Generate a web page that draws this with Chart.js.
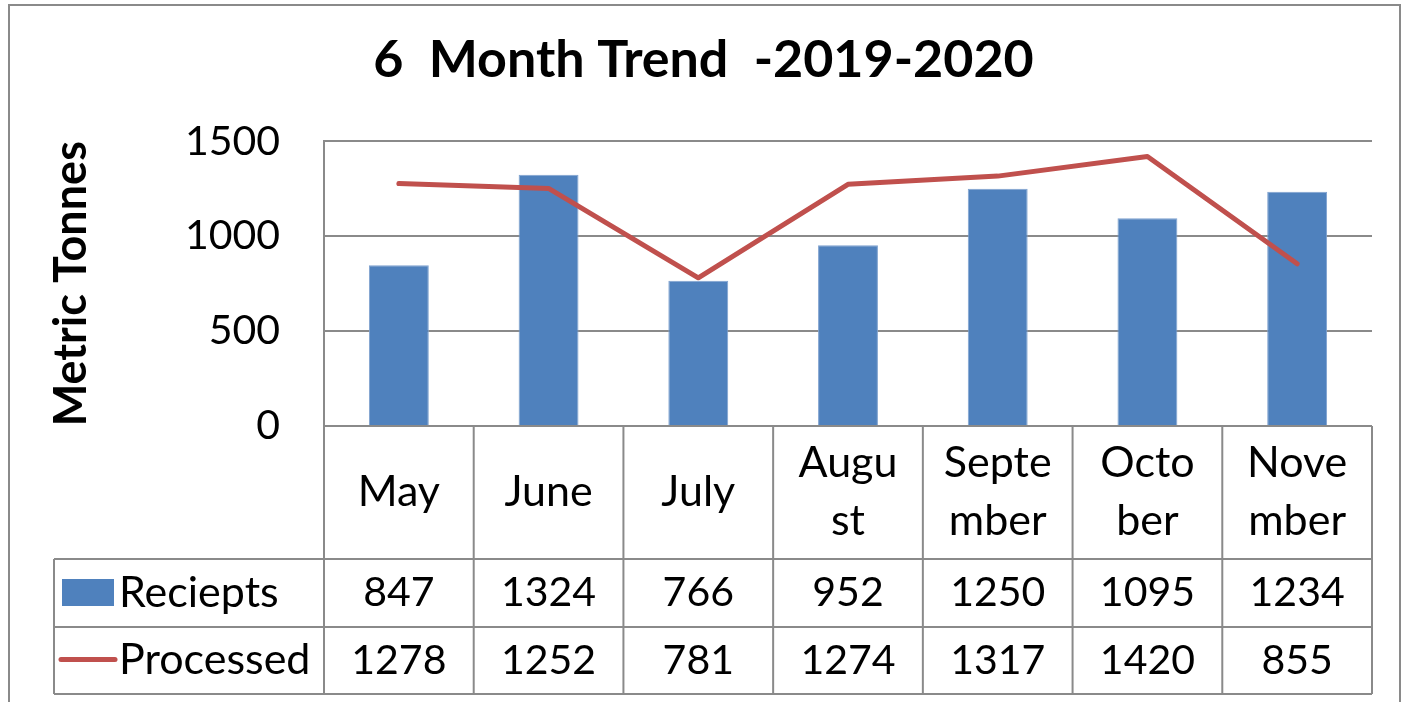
<!DOCTYPE html>
<html>
<head>
<meta charset="utf-8">
<script src="https://cdn.jsdelivr.net/npm/chart.js@4/dist/chart.umd.min.js"></script>
<style>
  html, body { margin: 0; padding: 0; background: #fff; }
  #wrap { width: 1403px; height: 702px; position: relative; }
</style>
</head>
<body>
<div id="wrap"><canvas id="chart"></canvas></div>
<script>
// data
const categories = [['May'], ['June'], ['July'], ['Augu', 'st'], ['Septe', 'mber'], ['Octo', 'ber'], ['Nove', 'mber']]
const receipts = [847, 1324, 766, 952, 1250, 1095, 1234]
const processed = [1278, 1252, 781, 1274, 1317, 1420, 855]
const yTicks = [0, 500, 1000, 1500]

const seriesNames = ['Reciepts', 'Processed']
const blue = '#4F81BD'
const red = '#C0504D'
const gray = '#8a8a8a'
const font = 'Lato'

// excel-like data table drawn under the plot, using the x scale positions
const dataTable = {
  id: 'dataTable',
  afterDraw(chart) {
    const { ctx, chartArea: area, scales: { x } } = chart
    const step = (area.right - area.left) / categories.length
    const r0 = area.bottom
    const r1 = r0 + 133
    const r2 = r1 + 68
    const r3 = r2 + 67
    const legendLeft = 54

    const line = (x1, y1, x2, y2) => {
      ctx.beginPath()
      ctx.moveTo(x1, y1)
      ctx.lineTo(x2, y2)
      ctx.stroke()
    }

    ctx.save()
    ctx.strokeStyle = gray
    ctx.lineWidth = 2
    line(legendLeft, r1, area.right, r1)
    line(legendLeft, r2, area.right, r2)
    line(legendLeft, r3, area.right, r3)
    line(legendLeft, r1, legendLeft, r3)
    for (let i = 0; i <= categories.length; i++) {
      const px = area.left + i * step
      line(px, r0, px, r3)
    }
    // outer chart border
    ctx.strokeRect(9, 5, 1391, 740)

    ctx.fillStyle = '#000'
    ctx.textAlign = 'center'
    ctx.textBaseline = 'middle'
    categories.forEach((lines, i) => {
      const cx = x.getPixelForValue(i)
      const mid = (r0 + r1) / 2
      ctx.font = `43px ${font}`
      lines.forEach((t, j) => {
        ctx.fillText(t, cx, mid + (j - (lines.length - 1) / 2) * 58)
      })
      ctx.font = `41px ${font}`
      ctx.fillText(String(receipts[i]), cx, (r1 + r2) / 2)
      ctx.fillText(String(processed[i]), cx, (r2 + r3) / 2)
    })

    // legend keys
    ctx.font = `43px ${font}`
    ctx.textAlign = 'left'
    ctx.fillText(seriesNames[0], 119, (r1 + r2) / 2)
    ctx.fillText(seriesNames[1], 119, (r2 + r3) / 2)
    ctx.fillStyle = blue
    ctx.fillRect(62, 579, 52, 27)
    ctx.strokeStyle = red
    ctx.lineWidth = 5
    ctx.lineCap = 'round'
    line(61, (r2 + r3) / 2 - 1, 115, (r2 + r3) / 2 - 1)
    ctx.restore()
  }
}

new Chart(document.getElementById('chart'), {
  data: {
    labels: categories,
    datasets: [
      {
        type: 'line',
        label: seriesNames[1],
        data: processed,
        borderColor: red,
        borderWidth: 5,
        pointRadius: 0,
        tension: 0,
        borderCapStyle: 'round',
        borderJoinStyle: 'round',
        order: 0
      },
      {
        type: 'bar',
        label: seriesNames[0],
        data: receipts,
        backgroundColor: blue,
        borderColor: '#7fa2cf',
        borderWidth: 1,
        categoryPercentage: 1,
        barPercentage: 0.4,
        order: 1
      }
    ]
  },
  options: {
    responsive: true,
    maintainAspectRatio: false,
    animation: false,
    layout: {
      padding: { left: 35, right: 31, top: 0, bottom: 276 }
    },
    scales: {
      x: {
        display: false
      },
      y: {
        min: 0,
        max: 1500,
        afterBuildTicks: (s) => { s.ticks = yTicks.map((v) => ({ value: v })) },
        afterFit: (s) => { s.width = 289 },
        ticks: {
          color: '#000',
          font: { family: font, size: 41 },
          padding: 44,
          callback: (v) => String(v)
        },
        grid: {
          color: gray,
          lineWidth: 2,
          drawTicks: false
        },
        border: {
          color: gray,
          width: 2
        },
        title: {
          display: true,
          text: 'Metric Tonnes',
          color: '#000',
          font: { family: font, size: 45, weight: 'bold', lineHeight: 1.2 },
          padding: { top: 9, bottom: 0 }
        }
      }
    },
    plugins: {
      legend: { display: false },
      tooltip: { enabled: false },
      title: {
        display: true,
        text: '6  Month Trend  -2019-2020',
        color: '#000',
        font: { family: font, size: 52, weight: 'bold', lineHeight: 1.2 },
        padding: { top: 29, bottom: 50 }
      }
    }
  },
  plugins: [dataTable]
})
</script>
</body>
</html>
